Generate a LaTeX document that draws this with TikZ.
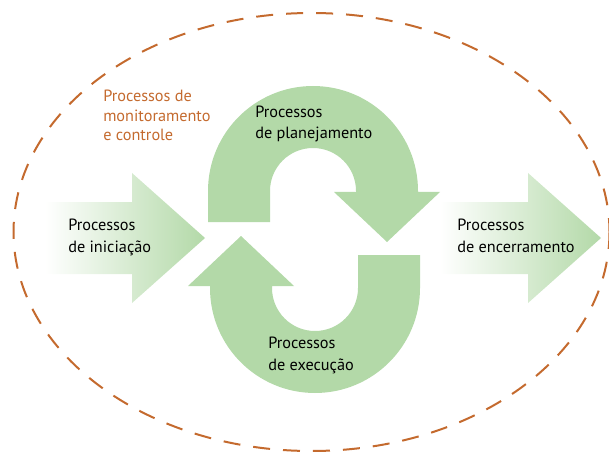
\documentclass[tikz,border=0pt]{standalone}
\usepackage{fontspec}
\setmainfont{PT Sans}
\usepackage{xcolor}
\definecolor{procgreen}{RGB}{179,217,168}
\definecolor{procorange}{RGB}{196,106,46}

\tikzset{
  proclabel/.style={anchor=north west, inner sep=0pt, align=left, font=\fontsize{12.2}{16}\selectfont},
  monlabel/.style={anchor=north west, inner sep=0pt, align=left, text=procorange, font=\fontsize{12.2}{14.5}\selectfont}
}

\begin{document}
\begin{tikzpicture}[x=0.75pt,y=0.75pt,yscale=-1,xscale=1]
\useasboundingbox (0,0) rectangle (609,452);

% contorno de monitoramento e controle
\draw [color=procorange, line width=1.5pt, dash pattern=on 12.75pt off 9.75pt] (311.5,232) ellipse (298 and 219);

% setas de entrada e de saida
\shade [left color=white, right color=procgreen] (45,202) -- (132,202) -- (132,173) -- (205,238) -- (132,303) -- (132,274) -- (45,274) -- cycle ;
\shade [left color=white, right color=procgreen] (440,202) -- (528,202) -- (528,173) -- (601,238) -- (528,303) -- (528,274) -- (440,274) -- cycle ;

% ciclo planejamento / execucao
\fill [procgreen] (208,222) -- (208,191) arc [start angle=180, end angle=360, radius=105] -- (418,192) -- (440,192) -- (387,242) -- (334,192) -- (356,192) -- (356,191) arc [start angle=360, end angle=180, radius=43] -- (270,222) -- cycle ;
\fill [procgreen] (420,255) -- (420,288) arc [start angle=0, end angle=180, radius=105] -- (210,286) -- (188,286) -- (241,236) -- (294,286) -- (272,286) -- (272,288) arc [start angle=180, end angle=0, radius=43] -- (358,255) -- cycle ;

\draw (103,90) node (monitoramento) [monlabel] {Processos de\\monitoramento\\e controle};
\draw (255,105.5) node (planejamento) [proclabel] {Processos\\de planejamento};
\draw (68,219) node (iniciacao) [proclabel] {Processos\\de iniciação};
\draw (457,219) node (encerramento) [proclabel] {Processos\\de encerramento};
\draw (268,337) node (execucao) [proclabel] {Processos\\de execução};

\end{tikzpicture}
\end{document}
